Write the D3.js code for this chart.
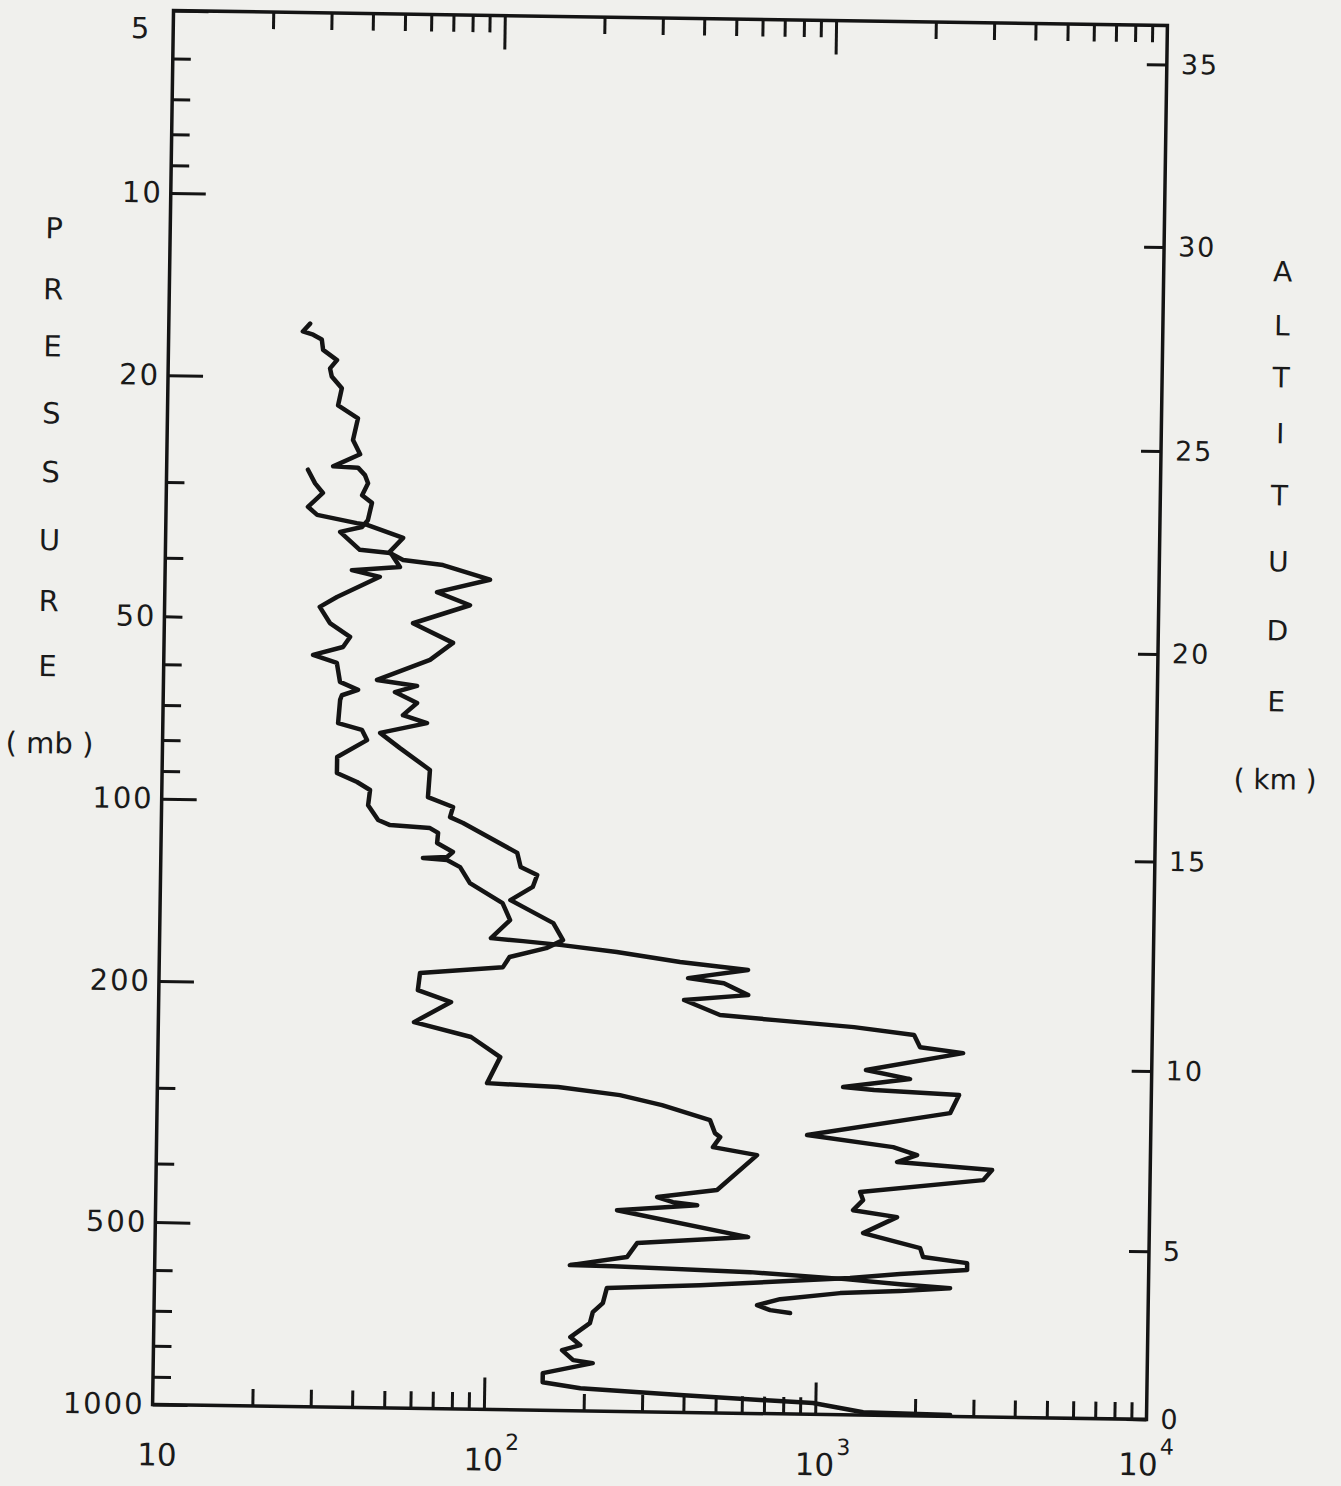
<!DOCTYPE html>
<html>
<head>
<meta charset="utf-8">
<script src="https://cdn.jsdelivr.net/npm/d3@7/dist/d3.min.js"></script>
<style>
body { margin: 0; background: #f0f0ed; }
svg text { font-family: "DejaVu Sans", sans-serif; fill: #1a1a1a; }
</style>
</head>
<body>
<div id="viz"></div>
<script>
// profile 1: starts near 16 mb, ends in the hook near 680 mb
const conc1 = [26.7, 25.4, 27.3, 29.0, 29.3, 32.3, 30.8, 31.2, 33.5, 32.7,
    37.6, 36.4, 38.3, 31.8, 37.8, 39.7, 40.6, 39.0, 41.8, 40.7,
    39.1, 33.6, 38.6, 47.6, 52.2, 68.9, 95.7, 66.3, 83.5, 56.3,
    74.5, 63.6, 44.1, 58.3, 50.0, 58.4, 53.0, 62.7, 45.3, 52.1,
    64.3, 63.6, 75.8, 74.3, 81.4, 119, 122, 137, 133, 114,
    125, 154, 165, 147, 114, 109, 61.3, 60.5, 76.3, 59.1,
    88.0, 108, 98.8, 162, 249, 334, 467, 484, 502, 478,
    650, 494, 326, 364, 431, 247, 616, 285, 266, 179,
    242, 627, 1214, 1779, 2520, 1781, 1174, 774, 660, 723, 831]
const pres1 = [16.3, 16.8, 17.0, 17.3, 18.0, 18.7, 19.3, 19.9, 20.8, 22.2,
    23.3, 25.3, 26.7, 28.0, 28.1, 28.9, 29.8, 31.2, 32.1, 34.3,
    35.2, 35.9, 38.4, 38.8, 39.8, 40.5, 42.7, 44.9, 47.1, 50.6,
    54.4, 58.1, 62.9, 64.2, 65.8, 68.5, 71.8, 73.9, 76.9, 81.4,
    88.3, 97.9, 101.5, 105.5, 107.8, 120.4, 127.0, 130.8, 136.9, 144.1,
    147.9, 156.9, 167.3, 172.6, 178.9, 186.0, 191.1, 203.9, 213.0, 230.4,
    243.0, 261.9, 289.3, 292.5, 300.5, 311.4, 328.8, 345.3, 350.5, 364.2,
    374.5, 428.7, 441.7, 450, 454.6, 465.4, 511.7, 526.8, 555.9, 575.0,
    575.8, 584.5, 597.0, 606.6, 614.2, 622.9, 629.8, 646.6, 662.4, 674.5, 681.4]

// profile 2: starts near 28 mb, runs down to the ground
const conc2 = [26.7, 28.1, 29.7, 26.8, 28.6, 37.7, 40.5, 52.1, 47.6, 51.1,
    36.6, 44.5, 33.1, 29.4, 31.6, 36.4, 34.7, 28.2, 33.3, 34.1,
    38.7, 34.6, 34.2, 33.8, 39.9, 41.4, 33.7, 33.7, 38.8, 42.5,
    42.0, 45.1, 49.0, 64.7, 68.5, 68.1, 76.1, 73.1, 61.8, 73.1,
    80.1, 85.9, 108, 114, 100, 125, 164, 240, 373, 599,
    395, 507, 601, 385, 495, 727, 1258, 1911, 1995, 2692,
    1373, 1867, 1173, 1455, 2629, 2475, 918, 1672, 1976, 1721,
    3333, 3135, 1335, 1364, 1274, 1731, 1369, 2038, 2082, 2829,
    2831, 1778, 1256, 443, 232, 226, 211, 207, 181, 194,
    171, 185, 212, 150, 150, 195, 390, 984, 1395, 2554]
const pres2 = [28.4, 29.9, 31.0, 32.7, 33.7, 34.7, 34.9, 36.6, 38.6, 40.9,
    41.5, 42.5, 46.0, 47.8, 50.8, 53.5, 55.6, 57.4, 59.1, 63.5,
    65.4, 66.8, 68.0, 74.3, 76.1, 79.1, 84.5, 89.8, 92.8, 95.6,
    101.3, 107.1, 109.1, 110.1, 112.1, 116.5, 120.4, 122.8, 123.4, 124.2,
    127.5, 135.4, 145.8, 155.5, 166.7, 168.3, 170.5, 174.5, 180.6, 185.5,
    191.9, 195.2, 204.0, 208.6, 220.4, 224.0, 229.0, 235.2, 246.2, 251.2,
    269.4, 278.1, 287.8, 290.6, 294.7, 315.8, 346.1, 360.5, 371.1, 381.5,
    391.2, 406.6, 428.5, 441.6, 459.2, 470.3, 500.7, 528.3, 546.6, 557.9,
    572.9, 583.9, 594.5, 615.9, 626.2, 663.2, 686.6, 716.1, 755.9, 778.9,
    794.7, 824.9, 833.5, 868.2, 898.5, 917.3, 936.5, 958, 988.8, 995]

const pressureTicks = [5, 6, 7, 8, 9, 10, 20, 30, 40, 50, 60, 70, 80, 90, 100, 200, 300, 400, 500, 600, 700, 800, 900, 1000]
const pressureLabels = [5, 10, 20, 50, 100, 200, 500, 1000]
const concTicks = [20, 30, 40, 50, 60, 70, 80, 90, 100, 200, 300, 400, 500, 600, 700, 800, 900, 1000,
    2000, 3000, 4000, 5000, 6000, 7000, 8000, 9000]
const concLabels = [10, 100, 1000, 10000]
const altKm = [0, 5, 10, 15, 20, 25, 30, 35]
const altPressure = [1000, 528, 266, 120, 54.5, 25.2, 11.6, 5.8]

const width = 1341
const height = 1486
const margin = {top: 18, right: 184, bottom: 74, left: 163}

const svg = d3.select("#viz").append("svg").attr("width", width).attr("height", height)
svg.append("rect").attr("width", width).attr("height", height).attr("fill", "#f0f0ed")

// the scanned figure sits slightly turned
const wrapper = svg.append("g").attr("transform", "rotate(0.86, 660, 715)")

const xScale = d3.scaleLog().domain([10, 10000]).range([margin.left, width - margin.right])
const yScale = d3.scaleLog().domain([5, 1000]).range([margin.top, height - margin.bottom])

const ink = "#141414"

function styleAxis(g, size) {
    g.select(".domain").remove()
    g.selectAll(".tick line").attr("stroke", ink).attr("stroke-width", 3)
    g.selectAll(".tick text").attr("font-size", size).attr("letter-spacing", 2)
        .attr("font-family", "DejaVu Sans").attr("fill", "#1a1a1a")
}

// left pressure axis, ticks point inward
const leftAxis = d3.axisLeft(yScale).tickValues(pressureTicks).tickSize(-18).tickPadding(8)
    .tickFormat(d => pressureLabels.includes(d) ? d : "")
const gLeft = wrapper.append("g").attr("transform", `translate(${margin.left},0)`).call(leftAxis)
styleAxis(gLeft, 29)
gLeft.selectAll(".tick line").attr("x2", d => (pressureLabels.includes(d) && d !== 50) ? 35 : 18)
gLeft.selectAll(".tick text").filter(d => d === 5).attr("dy", "0.95em").attr("dx", -14)

// bottom and top concentration axes
const bottomAxis = d3.axisBottom(xScale).tickValues(concTicks).tickSize(-17).tickFormat("")
const gBottom = wrapper.append("g").attr("transform", `translate(0,${height - margin.bottom})`).call(bottomAxis)
styleAxis(gBottom, 26)
gBottom.selectAll(".tick line").attr("y2", d => (d === 100 || d === 1000) ? -32 : -17)

const topAxis = d3.axisTop(xScale).tickValues(concTicks).tickSize(-17).tickFormat("")
const gTop = wrapper.append("g").attr("transform", `translate(0,${margin.top})`).call(topAxis)
styleAxis(gTop, 26)
gTop.selectAll(".tick line").attr("y2", d => (d === 100 || d === 1000) ? 34 : 17)

// right altitude axis
const rightAxis = d3.axisRight(yScale).tickValues(altPressure).tickSize(-20).tickPadding(14)
    .tickFormat((d, i) => altKm[i])
const gRight = wrapper.append("g").attr("transform", `translate(${width - margin.right},0)`).call(rightAxis)
styleAxis(gRight, 27)

// frame
wrapper.append("rect")
    .attr("x", margin.left).attr("y", margin.top)
    .attr("width", width - margin.left - margin.right)
    .attr("height", height - margin.top - margin.bottom)
    .attr("fill", "none").attr("stroke", ink).attr("stroke-width", 3.5)

// power-of-ten labels under the bottom axis
const powLabels = wrapper.append("g").selectAll("text").data(concLabels).join("text")
    .attr("x", d => xScale(d) + (d === 10 ? 5 : (d === 10000 ? 0 : 8)))
    .attr("y", d => height - margin.bottom + (d === 10000 ? 56 : 61))
    .attr("text-anchor", "middle")
    .attr("font-size", 31)
powLabels.append("tspan").text("10")
powLabels.filter(d => d > 10).append("tspan")
    .attr("font-size", 22).attr("dy", -21).attr("dx", 2)
    .text(d => Math.round(Math.log10(d)))

// axis titles, one letter per line
const leftTitle = ["P", "R", "E", "S", "S", "U", "R", "E", "(mb)"]
const leftY = [237, 298, 355, 422, 481, 549, 610, 675, 752]
wrapper.append("g").selectAll("text").data(leftTitle).join("text")
    .attr("x", d => d === "(mb)" ? 50 : 47).attr("y", (d, i) => leftY[i])
    .attr("dy", "0.36em").attr("text-anchor", "middle").attr("font-size", 29)
    .attr("xml:space", "preserve")
    .text(d => d === "(mb)" ? "( mb )" : d)

const rightTitle = ["A", "L", "T", "I", "T", "U", "D", "E", "(km)"]
const rightY = [262, 316, 368, 424, 486, 552, 621, 692, 770]
wrapper.append("g").selectAll("text").data(rightTitle).join("text")
    .attr("x", 1276).attr("y", (d, i) => rightY[i])
    .attr("dy", "0.36em").attr("text-anchor", "middle").attr("font-size", 28)
    .attr("xml:space", "preserve")
    .text(d => d === "(km)" ? "( km )" : d)

// the two profiles
const line = d3.line().x(d => xScale(d[0])).y(d => yScale(d[1]))
const profiles = [d3.zip(conc1, pres1), d3.zip(conc2, pres2)]
wrapper.append("g").selectAll("path").data(profiles).join("path")
    .attr("d", line)
    .attr("fill", "none")
    .attr("stroke", ink)
    .attr("stroke-width", 4.5)
    .attr("stroke-linejoin", "round")
    .attr("stroke-linecap", "round")
</script>
</body>
</html>
